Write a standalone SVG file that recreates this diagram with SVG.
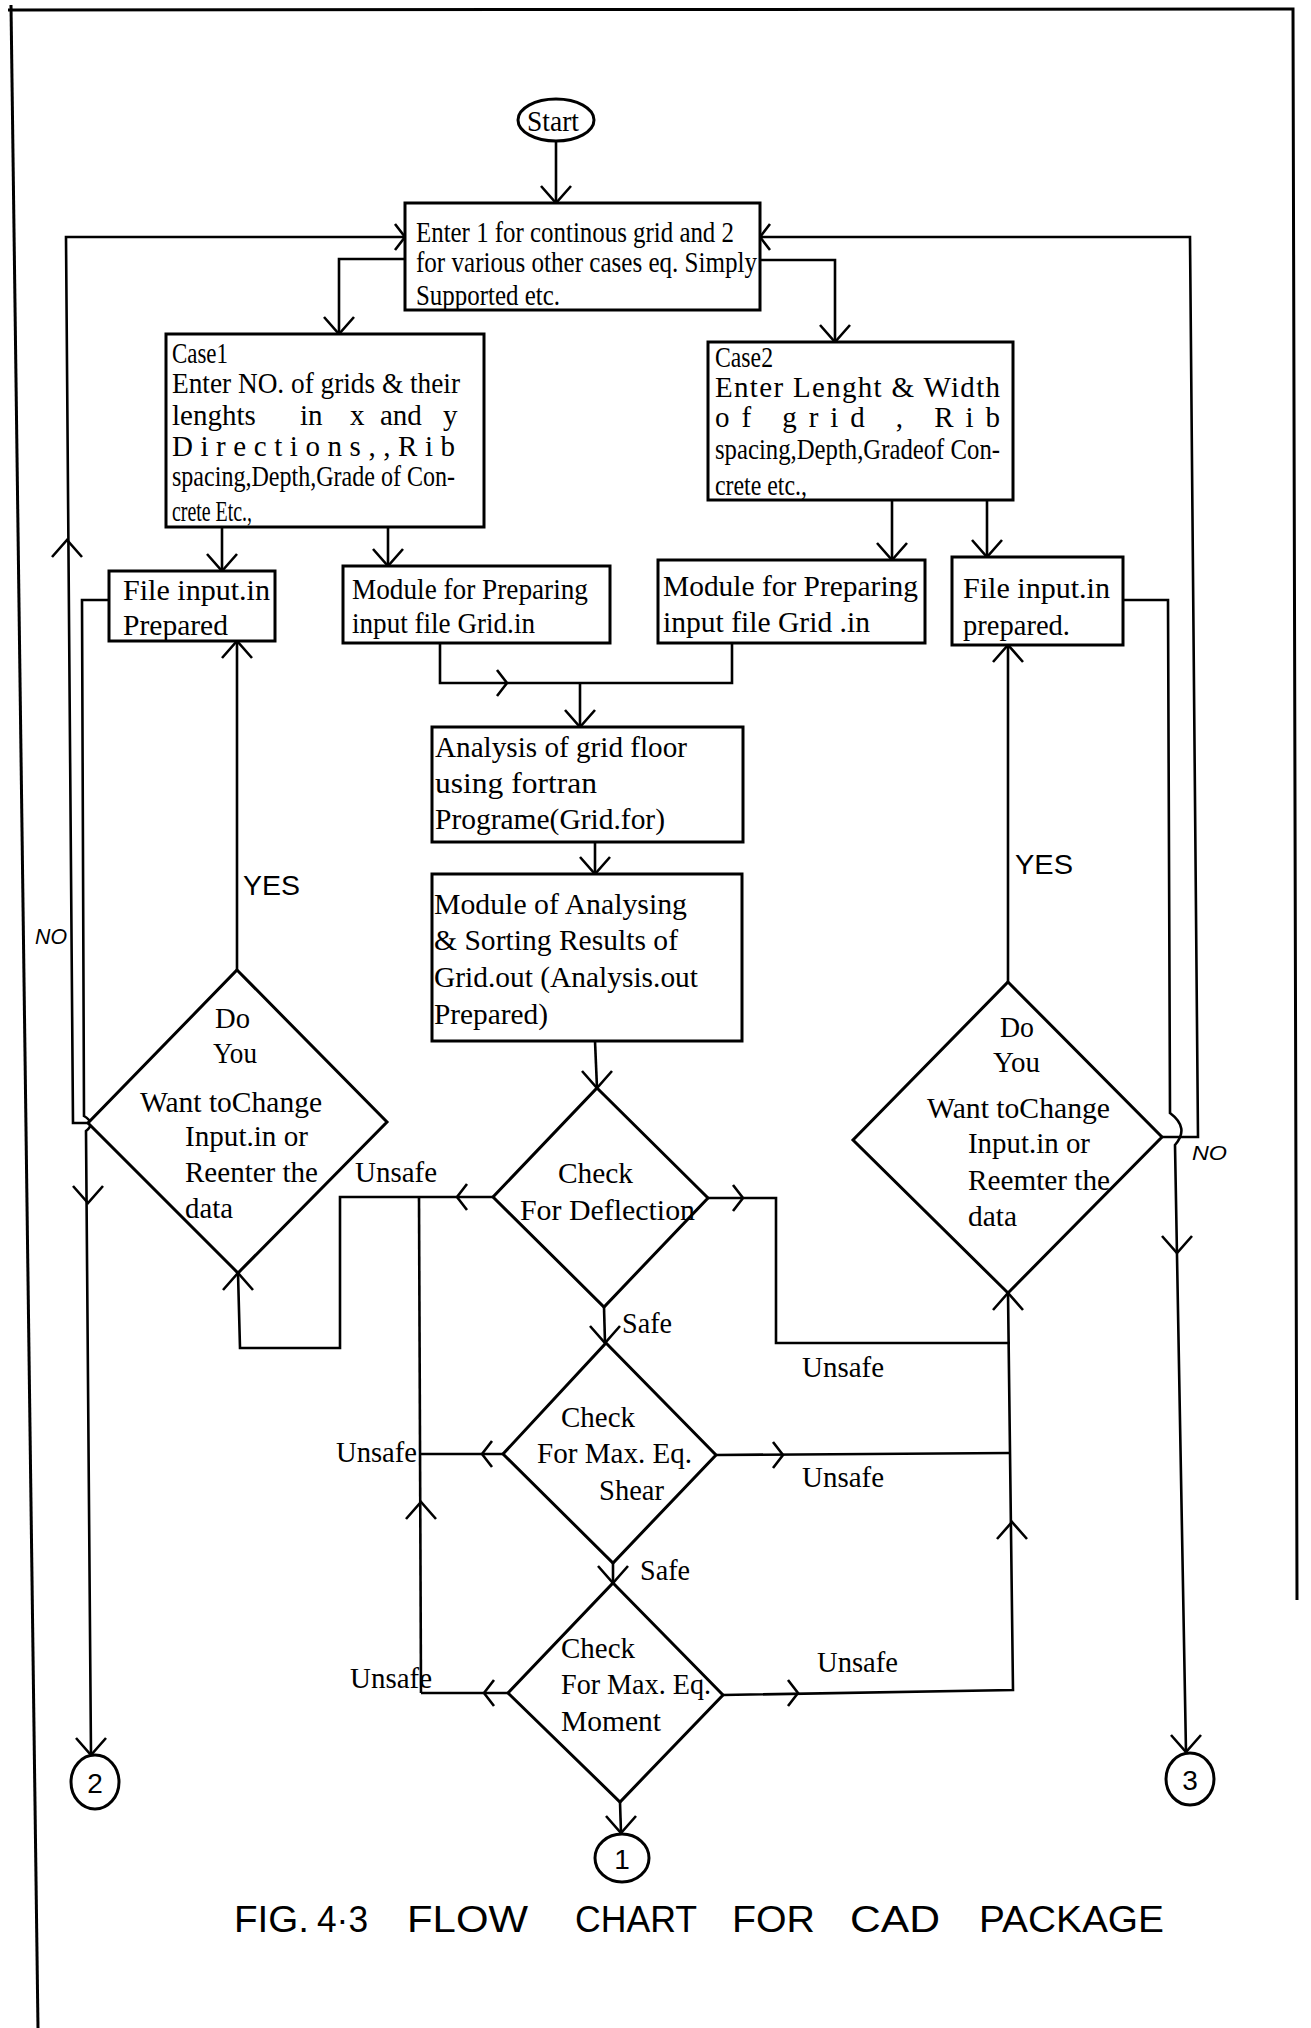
<svg xmlns="http://www.w3.org/2000/svg" xmlns:xlink="http://www.w3.org/1999/xlink" width="1311" height="2028" viewBox="0 0 1311 2028">
<style>
.b{fill:#fff;stroke:#000;stroke-width:3}
.c{fill:none;stroke:#000;stroke-width:2.6;stroke-linejoin:miter}
.pg{fill:none;stroke:#000;stroke-width:3}
.t{font-family:"Liberation Serif","Times New Roman",serif;font-size:29px;fill:#000}
.h{font-family:"Liberation Sans",Arial,sans-serif;fill:#000}
</style>
<defs>
<path id="chv" d="M-15,-17 L0,0 L15,-17" fill="none" stroke="#000" stroke-width="2.6"/>
<path id="chh" d="M-10,-13 L0,0 L-10,13" fill="none" stroke="#000" stroke-width="2.6"/>
</defs>
<rect width="1311" height="2028" fill="#fff"/>
<g id="page">
<path class="pg" d="M8,10 L1293,9 L1297,1600"/>
<path class="pg" d="M11,5 L38,2028"/>
</g>
<g id="connectors">
<path class="c" d="M556,141 L556,203"/>
<use xlink:href="#chv" transform="translate(556,203)"/>
<path class="c" d="M405,259 L339,259 L339,334"/>
<use xlink:href="#chv" transform="translate(339,334)"/>
<path class="c" d="M760,260 L835,260 L835,342"/>
<use xlink:href="#chv" transform="translate(835,342)"/>
<path class="c" d="M88,1123 L73,1123 L66,237 L405,237"/>
<use xlink:href="#chh" transform="translate(405,237)"/>
<use xlink:href="#chv" transform="translate(67,540) rotate(180)"/>
<path class="c" d="M1162,1137 L1198,1137 L1190,237 L760,237"/>
<use xlink:href="#chh" transform="translate(760,237) rotate(180)"/>
<path class="c" d="M222,527 L222,571"/>
<use xlink:href="#chv" transform="translate(222,571)"/>
<path class="c" d="M388,527 L388,566"/>
<use xlink:href="#chv" transform="translate(388,566)"/>
<path class="c" d="M892,500 L892,560"/>
<use xlink:href="#chv" transform="translate(892,560)"/>
<path class="c" d="M987,500 L987,557"/>
<use xlink:href="#chv" transform="translate(987,557)"/>
<path class="c" d="M440,643 L440,683 L732,683 L732,643"/>
<use xlink:href="#chh" transform="translate(507,683)"/>
<path class="c" d="M580,683 L580,727"/>
<use xlink:href="#chv" transform="translate(580,727)"/>
<path class="c" d="M595,842 L595,874"/>
<use xlink:href="#chv" transform="translate(595,874)"/>
<path class="c" d="M595,1041 L597,1088"/>
<use xlink:href="#chv" transform="translate(597,1088)"/>
<path class="c" d="M493,1197 L340,1197 L340,1348 L240,1348 L238,1273"/>
<use xlink:href="#chh" transform="translate(457,1197) rotate(180)"/>
<use xlink:href="#chv" transform="translate(238,1273) rotate(180)"/>
<path class="c" d="M419,1197 L421,1693"/>
<path class="c" d="M508,1693 L421,1693"/>
<path class="c" d="M503,1454 L420,1454"/>
<use xlink:href="#chv" transform="translate(421,1502) rotate(180)"/>
<use xlink:href="#chh" transform="translate(482,1454) rotate(180)"/>
<use xlink:href="#chh" transform="translate(484,1693) rotate(180)"/>
<path class="c" d="M237,970 L237,641"/>
<use xlink:href="#chv" transform="translate(237,641) rotate(180)"/>
<path class="c" d="M109,600 L82,600 L84,1116 Q96,1123 86,1131 L91,1755"/>
<use xlink:href="#chv" transform="translate(88,1203)"/>
<use xlink:href="#chv" transform="translate(91,1755)"/>
<path class="c" d="M1008,982 L1008,645"/>
<use xlink:href="#chv" transform="translate(1008,645) rotate(180)"/>
<path class="c" d="M1123,600 L1168,600 L1170,1113 Q1190,1128 1175,1145 L1186,1752"/>
<use xlink:href="#chv" transform="translate(1177,1253)"/>
<use xlink:href="#chv" transform="translate(1186,1752)"/>
<path class="c" d="M708,1198 L776,1198 L776,1343 L1010,1343"/>
<use xlink:href="#chh" transform="translate(743,1198)"/>
<path class="c" d="M1008,1293 L1013,1690 L723,1695"/>
<path class="c" d="M716,1455 L1010,1453"/>
<use xlink:href="#chv" transform="translate(1008,1293) rotate(180)"/>
<use xlink:href="#chv" transform="translate(1012,1522) rotate(180)"/>
<use xlink:href="#chh" transform="translate(783,1455)"/>
<use xlink:href="#chh" transform="translate(798,1693)"/>
<path class="c" d="M604,1307 L605,1343"/>
<use xlink:href="#chv" transform="translate(605,1343)"/>
<path class="c" d="M613,1563 L613,1583"/>
<use xlink:href="#chv" transform="translate(613,1583)"/>
<path class="c" d="M620,1802 L621,1833"/>
<use xlink:href="#chv" transform="translate(621,1833)"/>
<text class="t" x="355" y="1182" textLength="82" lengthAdjust="spacingAndGlyphs">Unsafe</text>
<text class="t" x="802" y="1377" textLength="82" lengthAdjust="spacingAndGlyphs">Unsafe</text>
<text class="t" x="336" y="1462" textLength="81" lengthAdjust="spacingAndGlyphs">Unsafe</text>
<text class="t" x="802" y="1487" textLength="82" lengthAdjust="spacingAndGlyphs">Unsafe</text>
<text class="t" x="350" y="1688" textLength="82" lengthAdjust="spacingAndGlyphs">Unsafe</text>
<text class="t" x="817" y="1672" textLength="81" lengthAdjust="spacingAndGlyphs">Unsafe</text>
<text class="t" x="622" y="1333" textLength="50" lengthAdjust="spacingAndGlyphs">Safe</text>
<text class="t" x="640" y="1580" textLength="50" lengthAdjust="spacingAndGlyphs">Safe</text>
<text class="h" x="243" y="895" font-size="27" textLength="57" lengthAdjust="spacingAndGlyphs">YES</text>
<text class="h" x="1015" y="874" font-size="27" textLength="58" lengthAdjust="spacingAndGlyphs">YES</text>
<text class="h" x="35" y="944" font-size="22" textLength="32" lengthAdjust="spacingAndGlyphs" font-style="italic">NO</text>
<text class="h" x="1192" y="1160" font-size="20" textLength="35" lengthAdjust="spacingAndGlyphs" font-style="italic">NO</text>
</g>
<g id="start">
<ellipse class="b" cx="556" cy="120" rx="38" ry="21"/>
<text class="t" x="527" y="131" font-size="33" textLength="52" lengthAdjust="spacingAndGlyphs">Start</text>
</g>
<g id="enter">
<rect class="b" x="405" y="203" width="355" height="107"/>
<text class="t" x="416" y="242" font-size="30" textLength="318" lengthAdjust="spacingAndGlyphs">Enter 1 for continous grid and 2</text>
<text class="t" x="416" y="272" font-size="30" textLength="341" lengthAdjust="spacingAndGlyphs">for various other cases eq. Simply</text>
<text class="t" x="416" y="305" font-size="30" textLength="144" lengthAdjust="spacingAndGlyphs">Supported etc.</text>
</g>
<g id="case1">
<rect class="b" x="166" y="334" width="318" height="193"/>
<text class="t" x="172" y="363" font-size="27" textLength="56" lengthAdjust="spacingAndGlyphs">Case1</text>
<text class="t" x="172" y="393" font-size="30" textLength="288" lengthAdjust="spacingAndGlyphs">Enter NO. of grids &amp; their</text>
<text class="t" y="425" font-size="30"><tspan x="172">lenghts</tspan> <tspan x="300">in</tspan> <tspan x="350">x</tspan> <tspan x="380">and</tspan> <tspan x="443">y</tspan></text>
<text class="t" x="172" y="456" font-size="30" textLength="283" lengthAdjust="spacing">Directions,,Rib</text>
<text class="t" x="172" y="486" font-size="30" textLength="283" lengthAdjust="spacingAndGlyphs">spacing,Depth,Grade of Con-</text>
<text class="t" x="172" y="521" font-size="30" textLength="80" lengthAdjust="spacingAndGlyphs">crete Etc.,</text>
</g>
<g id="case2">
<rect class="b" x="708" y="342" width="305" height="158"/>
<text class="t" x="715" y="367" font-size="27" textLength="58" lengthAdjust="spacingAndGlyphs">Case2</text>
<text class="t" x="715" y="397" font-size="30" textLength="285" lengthAdjust="spacing">Enter Lenght &amp; Width</text>
<text class="t" x="715" y="427" font-size="30" textLength="285" lengthAdjust="spacing">of grid , Rib</text>
<text class="t" x="715" y="459" font-size="30" textLength="285" lengthAdjust="spacingAndGlyphs">spacing,Depth,Gradeof Con-</text>
<text class="t" x="715" y="495" font-size="30" textLength="92" lengthAdjust="spacingAndGlyphs">crete etc.,</text>
</g>
<g id="fileL">
<rect class="b" x="109" y="571" width="166" height="70"/>
<text class="t" x="123" y="600" font-size="30" textLength="147" lengthAdjust="spacingAndGlyphs">File input.in</text>
<text class="t" x="123" y="635" font-size="30" textLength="105" lengthAdjust="spacingAndGlyphs">Prepared</text>
</g>
<g id="modL">
<rect class="b" x="343" y="566" width="267" height="77"/>
<text class="t" x="352" y="599" font-size="30" textLength="236" lengthAdjust="spacingAndGlyphs">Module for Preparing</text>
<text class="t" x="352" y="633" font-size="30" textLength="183" lengthAdjust="spacingAndGlyphs">input file Grid.in</text>
</g>
<g id="modR">
<rect class="b" x="658" y="560" width="267" height="83"/>
<text class="t" x="663" y="596" font-size="31" textLength="255" lengthAdjust="spacingAndGlyphs">Module for Preparing</text>
<text class="t" x="663" y="632" font-size="31" textLength="207" lengthAdjust="spacingAndGlyphs">input file Grid .in</text>
</g>
<g id="fileR">
<rect class="b" x="952" y="557" width="171" height="88"/>
<text class="t" x="963" y="598" font-size="31" textLength="147" lengthAdjust="spacingAndGlyphs">File input.in</text>
<text class="t" x="963" y="635" font-size="31" textLength="107" lengthAdjust="spacingAndGlyphs">prepared.</text>
</g>
<g id="analysis">
<rect class="b" x="432" y="727" width="311" height="115"/>
<text class="t" x="435" y="757" font-size="33" textLength="252" lengthAdjust="spacingAndGlyphs">Analysis of grid floor</text>
<text class="t" x="435" y="793" font-size="33" textLength="162" lengthAdjust="spacingAndGlyphs">using fortran</text>
<text class="t" x="435" y="829" font-size="33" textLength="230" lengthAdjust="spacingAndGlyphs">Programe(Grid.for)</text>
</g>
<g id="sorting">
<rect class="b" x="432" y="874" width="310" height="167"/>
<text class="t" x="434" y="914" font-size="33" textLength="253" lengthAdjust="spacingAndGlyphs">Module of Analysing</text>
<text class="t" x="434" y="950" font-size="33" textLength="244" lengthAdjust="spacingAndGlyphs">&amp; Sorting Results of</text>
<text class="t" x="434" y="987" font-size="33" textLength="264" lengthAdjust="spacingAndGlyphs">Grid.out (Analysis.out</text>
<text class="t" x="434" y="1024" font-size="33" textLength="114" lengthAdjust="spacingAndGlyphs">Prepared)</text>
</g>
<g id="decisionL">
<polygon class="b" points="237,970 387,1122 238,1273 88,1123"/>
<text class="t" x="215" y="1028" textLength="35" lengthAdjust="spacingAndGlyphs">Do</text>
<text class="t" x="213" y="1063" textLength="44" lengthAdjust="spacingAndGlyphs">You</text>
<text class="t" x="140" y="1112" textLength="182" lengthAdjust="spacingAndGlyphs">Want toChange</text>
<text class="t" x="185" y="1146" textLength="123" lengthAdjust="spacingAndGlyphs">Input.in or</text>
<text class="t" x="185" y="1182" textLength="133" lengthAdjust="spacingAndGlyphs">Reenter the</text>
<text class="t" x="185" y="1218" textLength="48" lengthAdjust="spacingAndGlyphs">data</text>
</g>
<g id="decisionR">
<polygon class="b" points="1008,982 1162,1137 1008,1293 853,1140"/>
<text class="t" x="1000" y="1037" textLength="34" lengthAdjust="spacingAndGlyphs">Do</text>
<text class="t" x="993" y="1072" textLength="47" lengthAdjust="spacingAndGlyphs">You</text>
<text class="t" x="927" y="1118" textLength="183" lengthAdjust="spacingAndGlyphs">Want toChange</text>
<text class="t" x="968" y="1153" textLength="122" lengthAdjust="spacingAndGlyphs">Input.in or</text>
<text class="t" x="968" y="1190" textLength="142" lengthAdjust="spacingAndGlyphs">Reemter the</text>
<text class="t" x="968" y="1226" textLength="49" lengthAdjust="spacingAndGlyphs">data</text>
</g>
<g id="deflection">
<polygon class="b" points="597,1088 708,1198 604,1307 493,1197"/>
<text class="t" x="558" y="1183" textLength="75" lengthAdjust="spacingAndGlyphs">Check</text>
<text class="t" x="520" y="1220" textLength="175" lengthAdjust="spacingAndGlyphs">For Deflection</text>
</g>
<g id="shear">
<polygon class="b" points="606,1343 716,1455 613,1563 503,1454"/>
<text class="t" x="561" y="1427" textLength="74" lengthAdjust="spacingAndGlyphs">Check</text>
<text class="t" x="537" y="1463" textLength="155" lengthAdjust="spacingAndGlyphs">For Max. Eq.</text>
<text class="t" x="599" y="1500" textLength="65" lengthAdjust="spacingAndGlyphs">Shear</text>
</g>
<g id="moment">
<polygon class="b" points="613,1583 723,1695 620,1802 508,1693"/>
<text class="t" x="561" y="1658" textLength="74" lengthAdjust="spacingAndGlyphs">Check</text>
<text class="t" x="561" y="1694" textLength="150" lengthAdjust="spacingAndGlyphs">For Max. Eq.</text>
<text class="t" x="561" y="1731" textLength="100" lengthAdjust="spacingAndGlyphs">Moment</text>
</g>
<g id="conn2">
<ellipse class="b" cx="95" cy="1782" rx="24" ry="27"/>
<text class="h" x="95" y="1793" font-size="28" text-anchor="middle">2</text>
</g>
<g id="conn1">
<ellipse class="b" cx="622" cy="1858" rx="27" ry="24"/>
<text class="h" x="622" y="1869" font-size="28" text-anchor="middle">1</text>
</g>
<g id="conn3">
<ellipse class="b" cx="1190" cy="1779" rx="24" ry="26"/>
<text class="h" x="1190" y="1790" font-size="28" text-anchor="middle">3</text>
</g>
<g id="caption">
<text class="h" x="234" y="1932" font-size="36" textLength="75" lengthAdjust="spacingAndGlyphs">FIG.</text>
<text class="h" x="317" y="1932" font-size="36" textLength="51" lengthAdjust="spacingAndGlyphs">4·3</text>
<text class="h" x="407" y="1932" font-size="36" textLength="121" lengthAdjust="spacingAndGlyphs">FLOW</text>
<text class="h" x="575" y="1932" font-size="36" textLength="122" lengthAdjust="spacingAndGlyphs">CHART</text>
<text class="h" x="732" y="1932" font-size="36" textLength="83" lengthAdjust="spacingAndGlyphs">FOR</text>
<text class="h" x="850" y="1932" font-size="36" textLength="90" lengthAdjust="spacingAndGlyphs">CAD</text>
<text class="h" x="979" y="1932" font-size="36" textLength="185" lengthAdjust="spacingAndGlyphs">PACKAGE</text>
</g>
</svg>
